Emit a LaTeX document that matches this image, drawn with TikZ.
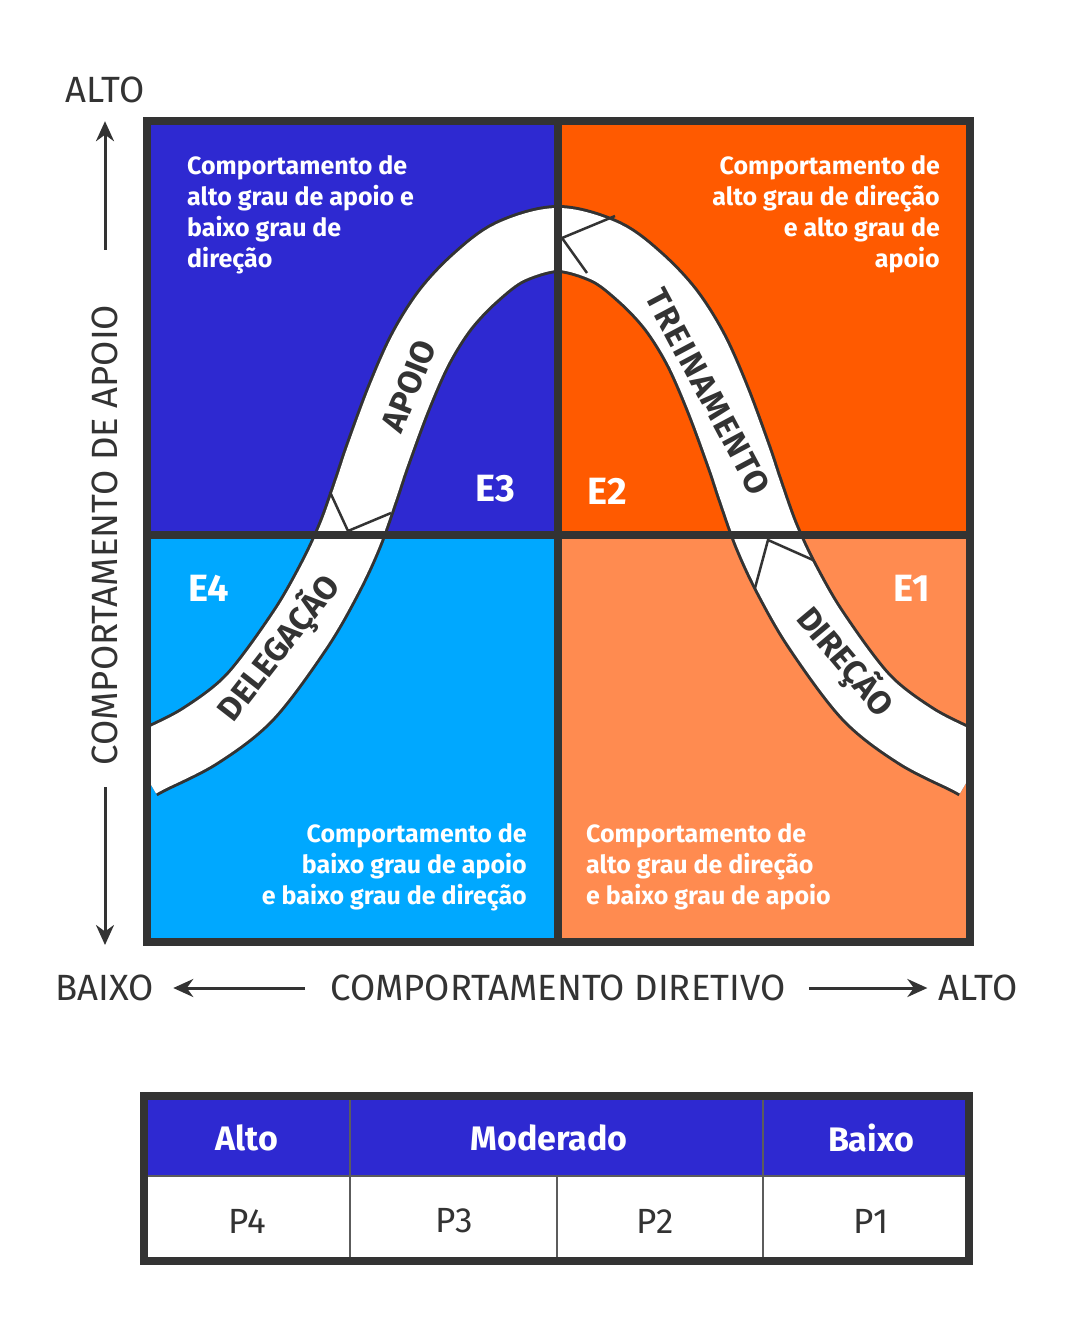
\documentclass[tikz,border=0pt]{standalone}
\usepackage{fontspec}
\setmainfont{Fira Sans}
\usepackage{tikz}
\usetikzlibrary{arrows.meta}
\definecolor{SitBlue}{HTML}{2E29D1}
\definecolor{SitOrange}{HTML}{FF5A00}
\definecolor{SitCyan}{HTML}{00A8FF}
\definecolor{SitPeach}{HTML}{FF8B50}
\definecolor{SitDark}{HTML}{333333}

\begin{document}
\begin{tikzpicture}[x=1pt,y=-1pt,
  quadtxt/.style={text=white,font=\bfseries\fontsize{25}{31}\selectfont,inner sep=0pt},
  stylelab/.style={text=white,font=\bfseries\fontsize{38}{38}\selectfont,inner sep=0pt},
  bandlab/.style={text=SitDark,font=\bfseries\fontsize{33}{33}\selectfont,inner sep=0pt},
  axislab/.style={text=SitDark,font=\fontsize{36.5}{36.5}\selectfont,inner sep=0pt},
  axisarrow/.style={SitDark,line width=3pt,-{Stealth[length=20pt,width=18pt]}},
  cellhead/.style={text=white,font=\bfseries\fontsize{34}{34}\selectfont},
  cellbody/.style={text=SitDark,font=\fontsize{35}{35}\selectfont}]
\useasboundingbox (0,0) rectangle (1075,1332);
% quadrants
\fill[SitBlue] (147,121) rectangle (558,535);
\fill[SitOrange] (558,121) rectangle (970,535);
\fill[SitCyan] (147,535) rectangle (558,942);
\fill[SitPeach] (558,535) rectangle (970,942);
% band
\begin{scope}
\clip (151,125) rectangle (966,938);
\draw[SitDark,line width=3pt,double=white,double distance=62pt] plot[smooth,tension=0.55] coordinates {(140,767) (151,761) (200,736) (250,697) (300,630) (330,578) (350,535) (366,490) (377,457) (398,400) (420,350) (445,310) (475,278) (510,252) (558,239) (606,252) (641,278) (671,310) (696,350) (718,400) (739,457) (750,490) (766,535) (786,578) (816,630) (866,697) (916,736) (965,761) (976,767)};
\end{scope}
\draw[SitDark,line width=2.5pt] (615,216)--(562,238)--(587,273);
\draw[SitDark,line width=2.5pt] (330,492)--(348,531)--(391,513);
\draw[SitDark,line width=2.5pt] (755,588)--(768,540)--(813,560);
% frame
\draw[SitDark,line width=8pt] (147,121) rectangle (970,942);
\draw[SitDark,line width=8pt] (558,121)--(558,942) (147,535)--(970,535);
% band labels
\node[bandlab,rotate=68] (apoio) at (409,386) {APOIO};
\node[bandlab,rotate=-62] (treino) at (708,392) {\addfontfeature{LetterSpace=5}TREINAMENTO};
\node[bandlab,rotate=52] (delega) at (279,648) {DELEGAÇÃO};
\node[bandlab,rotate=-50] (direcao) at (845,662) {DIREÇÃO};
% styles
\foreach \nm/\x/\y in {E3/495/489,E2/607/491,E4/209/588,E1/912/588}{\node[stylelab] (\nm) at (\x,\y) {\nm};}
\node[quadtxt,anchor=north west,align=left] (txtE3) at (187,155) {Comportamento de\\alto grau de apoio e\\baixo grau de\\direção};
\node[quadtxt,anchor=north east,align=right] (txtE2) at (940,155) {Comportamento de\\alto grau de direção\\e alto grau de\\apoio};
\node[quadtxt,anchor=north east,align=right] (txtE4) at (527,823) {Comportamento de\\baixo grau de apoio\\e baixo grau de direção};
\node[quadtxt,anchor=north west,align=left] (txtE1) at (586,823) {Comportamento de\\alto grau de direção\\e baixo grau de apoio};
% axes
\node[axislab] (yhigh) at (105,90) {ALTO};
\node[axislab,rotate=90] (ylab) at (105,535) {COMPORTAMENTO DE APOIO};
\coordinate (ylow) at (105,945);
\draw[axisarrow,shorten <=55pt,shorten >=18pt] (ylab.east) -- (yhigh.south);
\draw[axisarrow,shorten <=22pt] (ylab.west) -- (ylow);
\node[axislab] (xlow) at (105,988) {BAIXO};
\node[axislab] (xlab) at (558,988) {COMPORTAMENTO DIRETIVO};
\node[axislab] (xhigh) at (978,988) {ALTO};
\draw[axisarrow,shorten <=25pt,shorten >=19pt] (xlab.west) -- (xlow.east);
\draw[axisarrow,shorten <=23pt,shorten >=11pt] (xlab.east) -- (xhigh.west);
% maturity table
\fill[SitBlue] (148,1100) rectangle (965,1176);
\fill[white] (148,1176) rectangle (965,1257);
\draw[SitDark!80,line width=2pt] (148,1176)--(965,1176) (350,1100)--(350,1257) (763,1100)--(763,1257) (557,1176)--(557,1257);
\draw[SitDark,line width=8pt] (144,1096) rectangle (969,1261);
\foreach \nm/\x/\lab in {alto/247/Alto,moder/549/Moderado,baixo/871/Baixo}{\node[cellhead] (\nm) at (\x,1138) {\lab};}
\foreach \x/\lab in {247/P4,454/P3,655/P2,871/P1}{\node[cellbody] (\lab) at (\x,1221) {\lab};}
\end{tikzpicture}
\end{document}
